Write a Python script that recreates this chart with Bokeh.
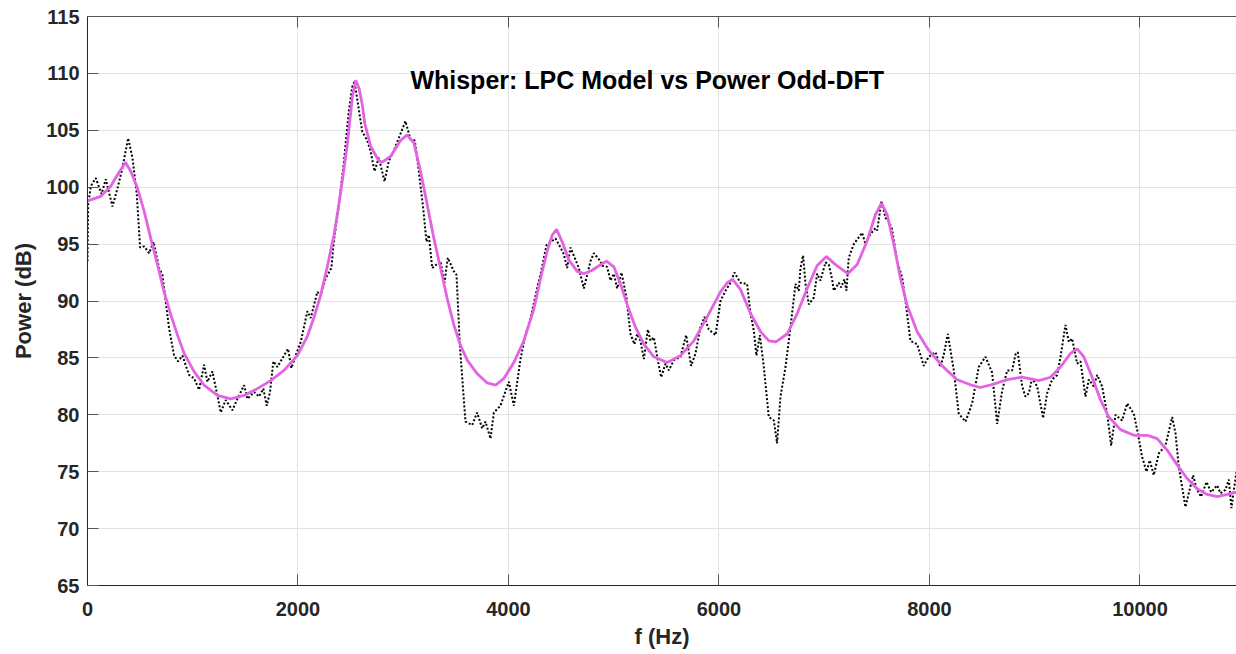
from bokeh.plotting import figure
from bokeh.models import Label, LinearAxis, FixedTicker, Range1d
from bokeh.embed import file_html
from bokeh.resources import INLINE

# ---------------- data ----------------
lpc_f = [0, 127, 222, 285, 348, 360, 411, 475, 538, 601, 665, 728, 791, 855, 918, 1013, 1108, 1234,
         1361, 1488, 1614, 1741, 1867, 1994, 2089, 2150, 2215, 2278, 2342, 2380, 2420, 2469, 2500,
         2516, 2548, 2580, 2610, 2635, 2690, 2769, 2800, 2879, 2974, 3037, 3101, 3164, 3227, 3291,
         3354, 3418, 3481, 3544, 3608, 3703, 3798, 3877, 3956, 4051, 4146, 4241, 4305, 4368, 4416,
         4457, 4510, 4574, 4653, 4716, 4796, 4875, 4931, 5001, 5064, 5127, 5206, 5286, 5381, 5508,
         5634, 5761, 5888, 6014, 6078, 6130, 6205, 6300, 6395, 6474, 6540, 6648, 6743, 6838, 6932,
         7021, 7107, 7224, 7313, 7408, 7487, 7544, 7598, 7661, 7724, 7788, 7883, 7990, 8120, 8260,
         8400, 8484, 8611, 8738, 8880, 9039, 9150, 9245, 9340, 9403, 9466, 9546, 9625, 9704, 9815,
         9942, 10068, 10163, 10258, 10353, 10448, 10543, 10638, 10733, 10828, 10917]
lpc_db = [98.8, 99.2, 100.1, 101.1, 102.0, 102.2, 101.4, 99.9, 97.9, 95.5, 93.2, 90.8, 88.8, 87.0,
          85.4, 83.8, 82.6, 81.7, 81.4, 81.7, 82.3, 83.0, 83.9, 85.2, 86.9, 88.5, 90.5, 93.0, 95.8,
          98.0, 100.5, 103.8, 106.5, 107.9, 109.4, 108.7, 107.3, 105.6, 103.6, 102.3, 102.2, 102.7,
          104.1, 104.6, 103.9, 101.4, 98.5, 95.5, 92.9, 90.2, 87.9, 86.1, 84.8, 83.6, 82.8, 82.6,
          83.2, 84.6, 86.5, 89.3, 92.0, 94.4, 95.8, 96.3, 95.2, 93.6, 92.6, 92.4, 92.7, 93.2, 93.5,
          93.0, 91.5, 89.7, 87.7, 86.2, 85.1, 84.6, 85.2, 86.5, 88.6, 90.8, 91.6, 91.9, 91.0, 88.9,
          87.3, 86.5, 86.4, 87.1, 88.9, 91.1, 93.1, 93.9, 93.2, 92.4, 93.2, 95.3, 97.6, 98.6, 97.6,
          95.0, 92.0, 89.6, 87.3, 85.7, 84.3, 83.1, 82.6, 82.4, 82.7, 83.1, 83.3, 83.0, 83.3, 84.2,
          85.4, 85.8, 85.1, 83.3, 81.3, 79.8, 78.7, 78.2, 78.2, 77.9, 76.9, 75.6, 74.4, 73.5, 73.0,
          72.8, 73.0, 73.2]

dft_f = [0, 6, 32, 79, 133, 174, 237, 285, 332, 386, 427, 468, 500, 538, 586, 627, 680, 712, 744,
         775, 823, 861, 902, 965, 1013, 1060, 1108, 1139, 1187, 1234, 1266, 1313, 1377, 1424, 1488,
         1519, 1583, 1630, 1671, 1703, 1734, 1766, 1804, 1905, 1937, 1978, 2026, 2089, 2121, 2184,
         2216, 2263, 2317, 2340, 2390, 2437, 2483, 2515, 2537, 2610, 2657, 2689, 2727, 2768, 2822,
         2863, 2910, 2974, 3021, 3069, 3110, 3148, 3189, 3221, 3243, 3275, 3354, 3392, 3423, 3481,
         3506, 3538, 3591, 3655, 3702, 3750, 3781, 3829, 3861, 3924, 4003, 4051, 4114, 4161, 4209,
         4272, 4310, 4361, 4446, 4494, 4526, 4557, 4589, 4668, 4716, 4779, 4811, 4874, 4890, 4937,
         4969, 5001, 5032, 5074, 5121, 5159, 5197, 5222, 5254, 5286, 5324, 5349, 5381, 5419, 5450,
         5492, 5523, 5571, 5634, 5688, 5735, 5777, 5824, 5862, 5903, 5967, 6014, 6062, 6109, 6147,
         6204, 6267, 6299, 6331, 6356, 6388, 6426, 6473, 6521, 6552, 6584, 6632, 6679, 6727, 6758,
         6774, 6799, 6822, 6853, 6901, 6932, 6964, 7012, 7043, 7075, 7091, 7138, 7160, 7192, 7211,
         7233, 7281, 7328, 7360, 7392, 7439, 7487, 7503, 7544, 7582, 7613, 7645, 7692, 7740, 7772,
         7819, 7883, 7946, 7993, 8057, 8104, 8136, 8174, 8231, 8278, 8342, 8405, 8468, 8532, 8595,
         8643, 8690, 8738, 8785, 8817, 8839, 8880, 8912, 8944, 8975, 9023, 9080, 9118, 9165, 9213,
         9245, 9292, 9324, 9355, 9403, 9435, 9482, 9514, 9561, 9593, 9640, 9688, 9726, 9767, 9830,
         9878, 9941, 9979, 10020, 10062, 10093, 10131, 10179, 10242, 10306, 10337, 10369, 10432,
         10505, 10537, 10581, 10632, 10676, 10733, 10765, 10812, 10844, 10869, 10892, 10917]
dft_db = [93.5, 98.5, 100.1, 100.8, 99.4, 100.7, 98.3, 99.9, 101.7, 104.3, 102.6, 99.4, 94.7, 94.8,
          94.2, 95.2, 92.9, 92.3, 89.9, 87.6, 85.2, 84.7, 85.2, 83.5, 83.2, 82.2, 84.4, 82.9, 83.8,
          81.7, 80.2, 81.3, 80.4, 81.4, 82.6, 81.4, 82.0, 81.6, 82.3, 80.8, 82.0, 84.7, 84.2, 85.8,
          84.1, 85.2, 86.4, 89.1, 88.5, 90.8, 90.5, 92.0, 92.9, 95.2, 98.5, 102.3, 106.7, 108.8,
          109.3, 104.9, 104.1, 103.2, 101.4, 102.6, 100.5, 102.3, 103.2, 104.7, 105.8, 104.2, 104.1,
          101.4, 98.2, 95.2, 95.8, 92.9, 93.5, 91.6, 93.8, 92.6, 92.3, 86.1, 79.4, 79.1, 80.2, 78.8,
          79.4, 77.9, 80.2, 80.8, 82.9, 80.8, 84.9, 87.0, 88.5, 91.1, 92.6, 94.9, 95.5, 94.7, 94.1,
          92.9, 94.7, 92.9, 91.1, 93.5, 94.2, 93.5, 93.1, 93.0, 91.8, 92.4, 91.1, 92.5, 90.3, 87.1,
          86.2, 87.1, 86.5, 84.9, 87.5, 86.5, 86.8, 84.8, 83.3, 84.5, 83.9, 84.8, 85.1, 87.0, 84.3,
          85.4, 87.7, 88.6, 87.5, 87.0, 90.0, 90.9, 91.6, 92.5, 91.6, 91.5, 88.9, 87.4, 85.2, 87.0,
          84.2, 79.8, 79.5, 77.5, 81.6, 84.2, 87.7, 91.5, 90.9, 92.9, 94.0, 91.5, 89.7, 90.3, 92.4,
          91.8, 93.4, 93.2, 91.9, 90.9, 91.6, 91.2, 91.9, 90.9, 93.8, 95.0, 95.6, 96.0, 95.0, 95.9,
          96.4, 96.2, 98.8, 97.3, 97.0, 96.3, 93.5, 92.1, 90.0, 86.5, 86.2, 84.3, 85.1, 85.5, 84.2,
          85.3, 87.1, 83.9, 80.1, 79.4, 81.0, 84.2, 85.1, 83.7, 79.2, 82.1, 83.9, 83.9, 85.3, 85.5,
          82.5, 81.6, 81.9, 83.2, 82.5, 79.7, 81.9, 83.1, 83.5, 85.1, 87.9, 86.4, 86.7, 84.5, 84.7,
          81.6, 83.1, 82.5, 83.5, 82.5, 80.1, 77.3, 80.0, 79.5, 81.0, 80.1, 78.4, 76.3, 75.0, 76.0,
          74.7, 76.6, 77.3, 79.8, 78.4, 75.4, 71.9, 74.7, 73.5, 72.8, 74.1, 73.2, 73.8, 73.1, 73.4,
          74.3, 71.8, 73.4, 75.0]

x_ticks = [0, 2000, 4000, 6000, 8000, 10000]
y_ticks = [65, 70, 75, 80, 85, 90, 95, 100, 105, 110, 115]
x_limits = (0, 10917)
y_limits = (65, 115)
title_text = "Whisper: LPC Model vs Power Odd-DFT"
title_pos = (5318, 109.45)
x_label = "f (Hz)"
y_label = "Power (dB)"

FONT = "Liberation Sans"
AX = "#262626"

p = figure(width=1236, height=654, x_range=Range1d(*x_limits), y_range=Range1d(*y_limits),
           output_backend="svg", toolbar_location=None,
           min_border_left=87, min_border_right=0, min_border_top=16, min_border_bottom=69)
p.outline_line_color = None
p.background_fill_color = "white"
p.border_fill_color = "white"

for ax in (p.xaxis[0], p.yaxis[0]):
    ax.major_label_text_font = FONT
    ax.major_label_text_font_style = "bold"
    ax.major_label_text_font_size = "20px"
    ax.major_label_text_color = AX
    ax.axis_label_text_font = FONT
    ax.axis_label_text_font_style = "bold"
    ax.axis_label_text_font_size = "22px"
    ax.axis_label_text_color = AX
    ax.axis_line_color = AX
    ax.axis_line_width = 1
    ax.major_tick_in = 11
    ax.major_tick_out = 0
    ax.major_tick_line_color = "#555555"
    ax.minor_tick_line_color = None

p.xaxis[0].ticker = FixedTicker(ticks=x_ticks)
p.yaxis[0].ticker = FixedTicker(ticks=y_ticks)
p.xaxis[0].axis_label = x_label
p.yaxis[0].axis_label = y_label
p.xaxis[0].major_label_standoff = 16
p.xaxis[0].axis_label_standoff = 5
p.yaxis[0].major_label_standoff = 8
p.yaxis[0].axis_label_standoff = 7

top = LinearAxis(ticker=FixedTicker(ticks=x_ticks),
                 major_label_overrides={t: "" for t in x_ticks},
                 major_label_standoff=0, major_tick_in=11, major_tick_out=0,
                 major_tick_line_color="#555555", minor_tick_line_color=None,
                 axis_line_color="#555555", axis_line_width=1)
p.add_layout(top, "above")

p.xgrid.ticker = FixedTicker(ticks=x_ticks)
p.ygrid.ticker = FixedTicker(ticks=y_ticks)
for g in (p.xgrid[0], p.ygrid[0]):
    g.grid_line_color = "#E2E2E2"
    g.grid_line_width = 1

p.line(dft_f, dft_db, line_color="black", line_width=2, line_dash="2 2")
p.line(lpc_f, lpc_db, line_color="#E264E2", line_width=2.8)

p.add_layout(Label(x=title_pos[0], y=title_pos[1], text=title_text, text_align="center",
                   text_baseline="alphabetic", text_font=FONT, text_font_style="bold",
                   text_font_size="25px", text_color="black"))

open("out.html", "w").write(file_html(p, INLINE))
